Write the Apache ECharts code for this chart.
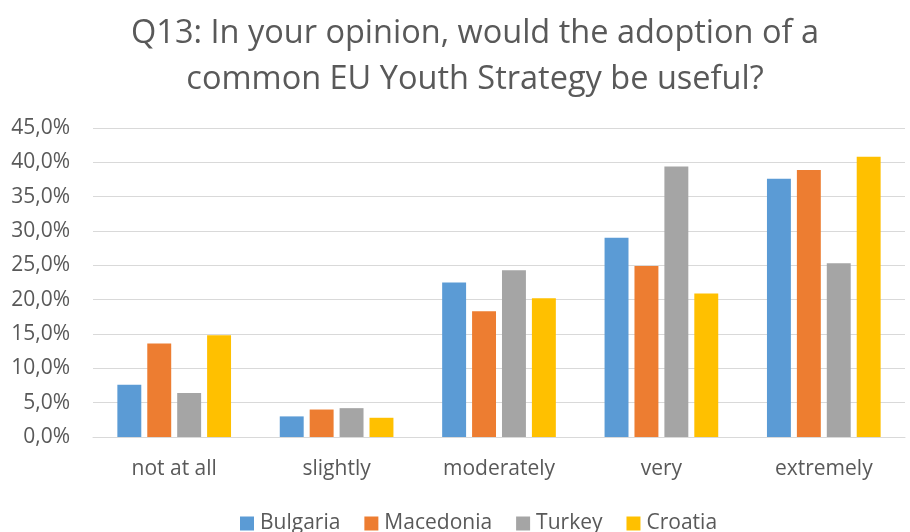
<!DOCTYPE html>
<html>
<head>
<meta charset="utf-8">
<script src="https://cdn.jsdelivr.net/npm/echarts@6/dist/echarts.min.js"></script>
<style>
  html, body { margin: 0; padding: 0; background: #fff; }
  #chart { width: 910px; height: 532px; }
</style>
</head>
<body>
<div id="chart"></div>
<script>
// Survey answers per country, share of respondents (%)
const categories = ['not at all', 'slightly', 'moderately', 'very', 'extremely'];
const bulgaria  = [7.6, 3.0, 22.5, 29.0, 37.6];
const macedonia = [13.6, 4.0, 18.3, 24.9, 38.9];
const turkey    = [6.4, 4.2, 24.3, 39.4, 25.3];
const croatia   = [14.8, 2.8, 20.2, 20.9, 40.8];
const seriesNames = ['Bulgaria', 'Macedonia', 'Turkey', 'Croatia'];
const seriesColors = ['#5B9BD5', '#ED7D31', '#A5A5A5', '#FFC000'];

const FONT = 'Open Sans';
const TEXT = '#595959';

const chart = echarts.init(document.getElementById('chart'));
const values = [bulgaria, macedonia, turkey, croatia];

chart.setOption({
  animation: false,
  title: {
    text: 'Q13: In your opinion, would the adoption of a\ncommon EU Youth Strategy be useful?',
    // anchor point of the centred heading (over the plot area)
    left: 470,
    top: 6,
    textAlign: 'center',
    textStyle: { fontFamily: FONT, fontWeight: 'normal', fontSize: 32.5, color: TEXT, lineHeight: 46 }
  },
  legend: {
    bottom: -7,
    left: 235,
    itemWidth: 14,
    itemHeight: 14,
    itemGap: 24,
    icon: 'rect',
    textStyle: { fontFamily: FONT, fontSize: 21, color: TEXT, padding: [0, 0, 0, 1] },
    data: seriesNames
  },
  grid: { left: 93, right: 5, top: 128, bottom: 95 },
  xAxis: {
    type: 'category',
    data: categories,
    axisLine: { lineStyle: { color: '#D9D9D9', width: 1 } },
    axisTick: { show: false },
    axisLabel: { fontFamily: FONT, fontSize: 21, color: TEXT, margin: 22 }
  },
  yAxis: {
    type: 'value',
    min: 0,
    max: 45,
    interval: 5,
    axisLine: { show: false },
    axisTick: { show: false },
    splitLine: { lineStyle: { color: '#D9D9D9', width: 1 } },
    axisLabel: {
      fontFamily: FONT, fontSize: 21, color: TEXT, margin: 23,
      formatter: v => v.toFixed(1).replace('.', ',') + '%'
    }
  },
  series: seriesNames.map((name, i) => ({
    name,
    type: 'bar',
    data: values[i],
    barGap: '25%',
    barCategoryGap: '30%',
    itemStyle: { color: seriesColors[i] }
  }))
});
</script>
</body>
</html>
